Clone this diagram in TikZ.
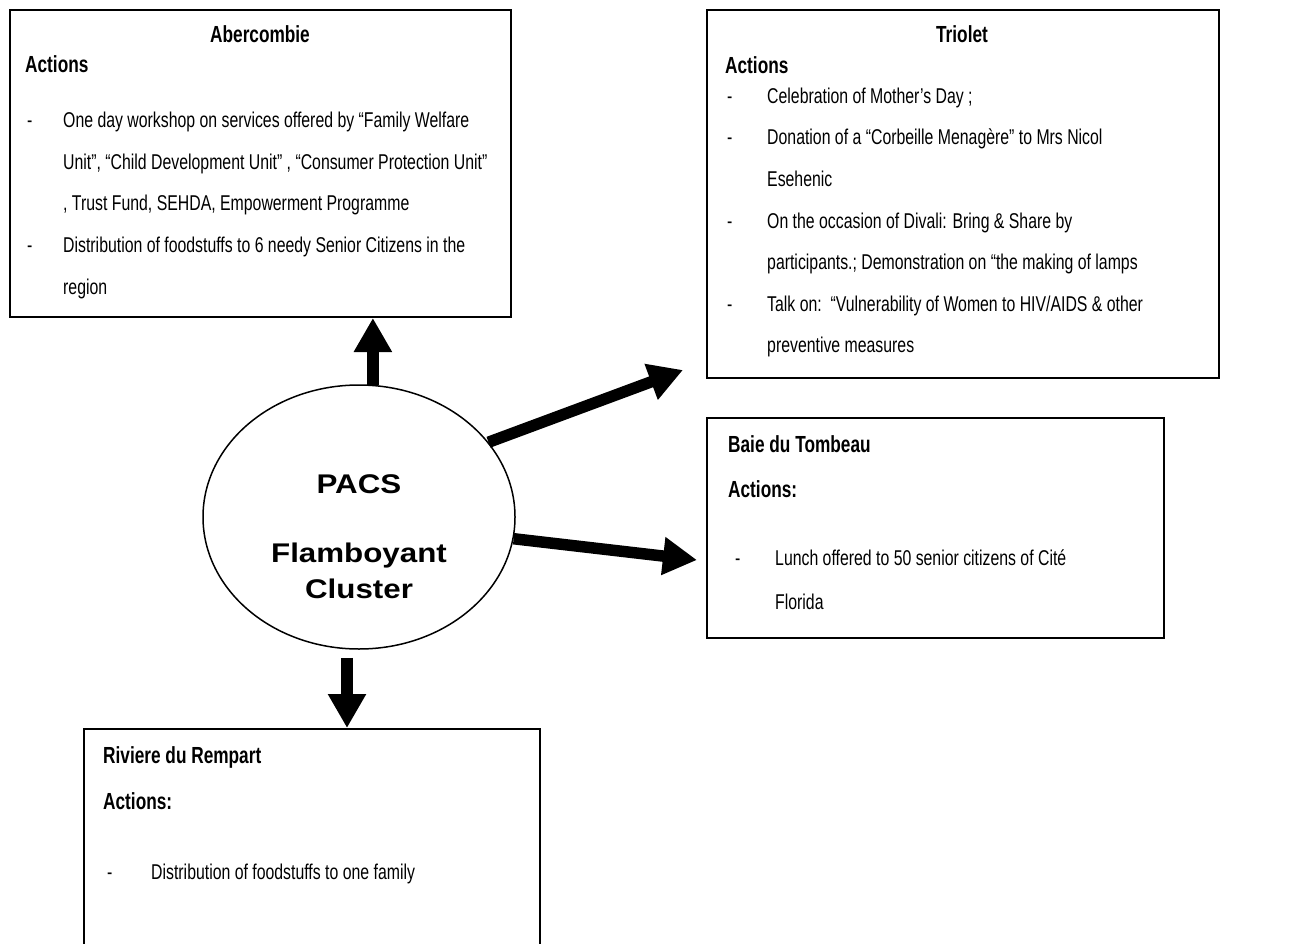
\documentclass[tikz,border=0pt]{standalone}
\usepackage{fontspec}
\setmainfont{Liberation Sans}
\newfontfamily\narrowfont{Liberation Sans}[FakeStretch=0.74]
\newfontfamily\widefont{Liberation Sans}[FakeStretch=1.16]
\usetikzlibrary{arrows.meta,shapes.geometric,calc}
\tikzset{
  boxnode/.style={draw, line width=2pt, rectangle, inner sep=0pt, anchor=north west},
  bodytext/.style={anchor=base west, inner sep=0pt, font=\narrowfont\fontsize{21.4}{25}\selectfont},
  headtext/.style={anchor=base west, inner sep=0pt, font=\narrowfont\bfseries\fontsize{23.3}{28}\selectfont},
  pacstext/.style={anchor=base, inner sep=0pt, font=\widefont\bfseries\fontsize{27}{32}\selectfont},
  bigarrow/.style={line width=11.5pt, -{Triangle[width=36pt,length=34pt]}}
}
\begin{document}
\begin{tikzpicture}[x=1pt,y=-1pt]
\useasboundingbox (0,0) rectangle (1289,944);
\clip (0,0) rectangle (1289,944);

% boxes
\node[boxnode, minimum width=501pt, minimum height=307pt] (aber) at (9,9) {};
\node[boxnode, minimum width=512pt, minimum height=368pt] (triolet) at (706,9) {};
\node[boxnode, minimum width=457pt, minimum height=220pt] (baie) at (706,417) {};
\node[boxnode, minimum width=456pt, minimum height=260pt] (riv) at (83,728) {};
\node[ellipse, draw, line width=1.5pt, minimum width=312pt, minimum height=264pt, inner sep=0pt] (pacs) at (359,517) {};

% centre texts
\node[pacstext] (pacs1) at (359,493) {PACS};
\node[pacstext] (pacs2) at (359,562) {Flamboyant};
\node[pacstext] (pacs3) at (359,598) {Cluster};

% Abercombie
\node[headtext, anchor=base] (aberh) at (260,43) {Abercombie};
\node[headtext] (abera) at (25,73) {Actions};
\node[bodytext] (aberd1) at (27,128) {-};
\node[bodytext] (aberl1) at (63,128) {One day workshop on services offered by “Family Welfare};
\node[bodytext] (aberl2) at (63,169.5) {Unit”, “Child Development Unit” , “Consumer Protection Unit”};
\node[bodytext] (aberl3) at (63,211) {, Trust Fund, SEHDA, Empowerment Programme};
\node[bodytext] (aberd2) at (27,252.5) {-};
\node[bodytext] (aberl4) at (63,252.5) {Distribution of foodstuffs to 6 needy Senior Citizens in the};
\node[bodytext] (aberl5) at (63,294) {region};

% Triolet
\node[headtext, anchor=base] (trih) at (962,43) {Triolet};
\node[headtext] (tria) at (725,74) {Actions};
\node[bodytext] (trid1) at (727,103.5) {-};
\node[bodytext] (tril1) at (767,103.5) {Celebration of Mother’s Day ;};
\node[bodytext] (trid2) at (727,145) {-};
\node[bodytext] (tril2) at (767,145) {Donation of a “Corbeille Menagère” to Mrs Nicol};
\node[bodytext] (tril3) at (767,186.5) {Esehenic};
\node[bodytext] (trid3) at (727,228) {-};
\node[bodytext] (tril4) at (767,228) {On the occasion of Divali: Bring \& Share by};
\node[bodytext] (tril5) at (767,269.5) {participants.; Demonstration on “the making of lamps};
\node[bodytext] (trid4) at (727,311) {-};
\node[bodytext] (tril6) at (767,311) {Talk on:\ \ “Vulnerability of Women to HIV/AIDS \& other};
\node[bodytext] (tril7) at (767,352.5) {preventive measures};

% Baie du Tombeau
\node[headtext] (baieh) at (728,452) {Baie du Tombeau};
\node[headtext] (baiea) at (728,497) {Actions:};
\node[bodytext] (baied1) at (735,565) {-};
\node[bodytext] (baiel1) at (775,565) {Lunch offered to 50 senior citizens of Cité};
\node[bodytext] (baiel2) at (775,609) {Florida};

% Riviere du Rempart
\node[headtext] (rivh) at (103,763) {Riviere du Rempart};
\node[headtext] (riva) at (103,809) {Actions:};
\node[bodytext] (rivd1) at (107,879) {-};
\node[bodytext] (rivl1) at (151,879) {Distribution of foodstuffs to one family};

% arrows
\coordinate (tritip) at (683,370);
\coordinate (baietip) at (697,560);
\coordinate (downstart) at ($(pacs.south)+(-12,8)$);
\draw[bigarrow] (pacs.84.8) -- (pacs.84.8 |- aber.south);
\draw[bigarrow] (pacs.30) -- (tritip);
\draw[bigarrow] (pacs.-8) -- (baietip);
\draw[bigarrow] (downstart) -- (downstart |- riv.north);
\end{tikzpicture}
\end{document}
